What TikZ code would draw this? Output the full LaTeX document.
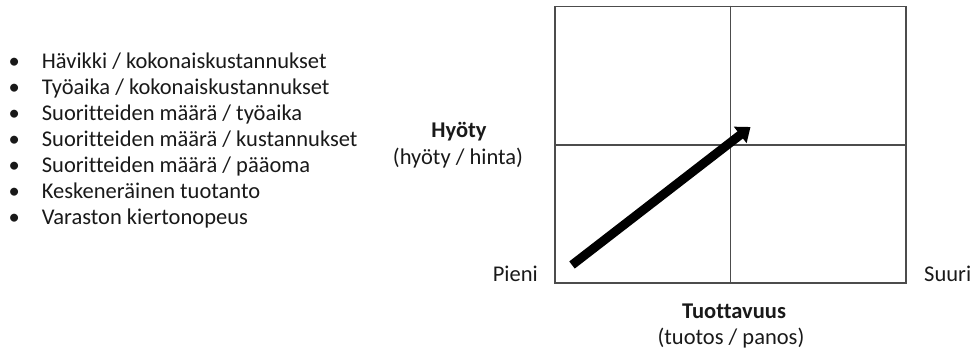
\documentclass[tikz,border=0pt]{standalone}
\usepackage{fontspec}
\setmainfont{Carlito}[Ligatures=CommonOff]
\usetikzlibrary{arrows.meta,positioning}

\tikzset{
  kentta/.style={draw=black!70, line width=1.5pt, minimum width=351pt,
    minimum height=276.5pt, inner sep=0pt},
  jako/.style={draw=black!70, line width=1.5pt},
  teksti/.style={font=\fontsize{22.5}{26}\selectfont, inner sep=0pt, text=black!90},
  otsikko/.style={teksti, font=\fontsize{22.5}{26}\selectfont\bfseries},
}

\begin{document}
\begin{tikzpicture}[x=1pt,y=-1pt]
  \useasboundingbox (0,0) rectangle (979,350);
  % mittarit
  \node[teksti, anchor=west] (lista) at (8.5,141) {%
    \fontsize{22.5}{26}\selectfont
    \begin{tabular}{@{}l@{\hspace{22pt}}l@{}}
      \textbullet & Hävikki / kokonaiskustannukset \\
      \textbullet & Työaika / kokonaiskustannukset \\
      \textbullet & Suoritteiden määrä / työaika \\
      \textbullet & Suoritteiden määrä / kustannukset \\
      \textbullet & Suoritteiden määrä / pääoma \\
      \textbullet & Keskeneräinen tuotanto \\
      \textbullet & Varaston kiertonopeus \\
    \end{tabular}} ;
  % nelikenttä
  \node[kentta] (kentta) at (730.5,144.75) {} ;
  \draw[jako] (kentta.north) -- (kentta.south) ;
  \draw[jako] (kentta.west) -- (kentta.east) ;
  \coordinate (alku) at (572,265) ;
  \coordinate (karki) at (750.5,127) ;
  \draw[line width=9pt, -{Triangle[length=13pt,width=20pt]}] (alku) -- (karki) ;
  % akselit
  \node[teksti, anchor=base east] (pieni) at (538,281) {Pieni} ;
  \node[teksti, anchor=base west] (suuri) at (924,281) {Suuri} ;
  \node[otsikko, anchor=base] (hyoty) at (459,138) {Hyöty} ;
  \node[teksti, anchor=base] (hyotyhinta) at (458,164) {(hyöty / hinta)} ;
  \node[otsikko, anchor=base] (tuottavuus) at (734,318) {Tuottavuus} ;
  \node[teksti, anchor=base] (tuotospanos) at (731,344) {(tuotos / panos)} ;
\end{tikzpicture}
\end{document}
